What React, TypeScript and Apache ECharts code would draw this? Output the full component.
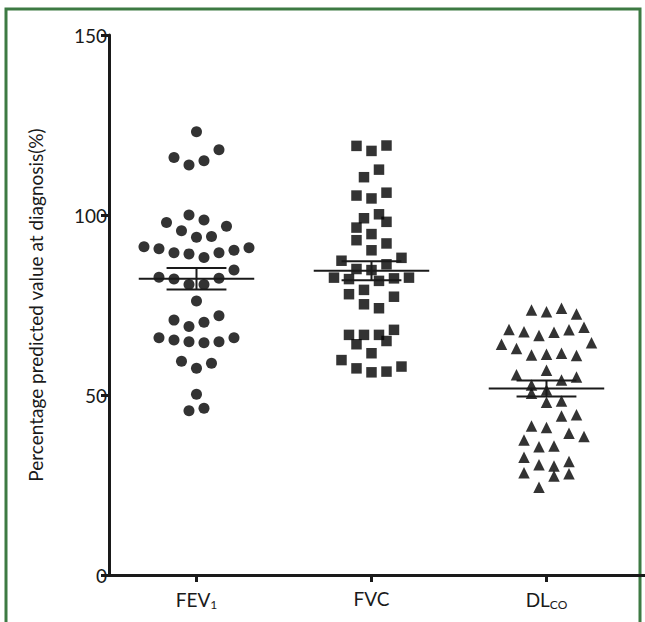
import React, { useEffect, useRef } from "react";
import * as echarts from "echarts";

// ---- data ----
const categories = ["FEV1", "FVC", "DLCO"];
const yTicks = [0, 50, 100, 150];

// horizontal jitter slots (half-steps of the beeswarm) and values, % predicted
const fev1Slots = [0, -3, -1, 1, 3, -1, -4, 1, 4, -2, 0, 2, -7, -5, -3, -1, 1, 3, 5, 7, 5, -5, -3, 3, -1, 1, 0, -3, -1, 1, 3, -5, -3, -1, 1, 3, 5, -2, 0, 2, 0, -1, 1];
const fev1Values = [123.1, 116.0, 113.9, 115.1, 118.1, 100.0, 97.9, 98.6, 96.9, 95.6, 93.8, 94.0, 91.2, 90.6, 89.5, 89.2, 88.2, 89.5, 90.2, 90.9, 84.7, 82.7, 82.2, 82.4, 80.7, 80.7, 76.1, 70.8, 69.0, 70.2, 72.0, 65.9, 65.3, 64.8, 64.5, 64.8, 65.9, 59.4, 57.4, 58.8, 50.2, 45.6, 46.3];

const fvcSlots = [-2, 0, 2, -1, 1, -2, 0, 2, -1, 1, 2, -2, 0, -2, 2, 0, 4, -4, 2, -2, 0, -5, -3, 1, 3, 5, -1, -3, 3, -1, 1, -3, -1, 1, 3, -2, 2, 0, -4, -2, 0, 2, 4];
const fvcValues = [119.2, 117.8, 119.3, 110.5, 112.6, 105.4, 104.6, 106.2, 99.1, 100.2, 98.1, 96.5, 94.7, 93.0, 92.1, 90.2, 88.1, 87.3, 86.3, 85.0, 84.7, 82.6, 82.2, 81.7, 82.4, 82.6, 79.2, 78.0, 77.3, 75.2, 74.1, 66.7, 66.7, 66.7, 68.1, 64.1, 65.0, 61.6, 59.7, 57.4, 56.3, 56.5, 57.9];

const dlcoSlots = [-2, 0, 2, 4, -5, -3, -1, 1, 3, 5, -6, -4, -2, 0, 2, 4, 6, -4, 0, 2, 4, -2, 0, -2, 0, 2, 2, 4, -2, 0, 3, 5, -3, -1, 1, -3, 3, -1, 1, 1, 3, -3, -1];
const dlcoValues = [73.6, 73.1, 74.1, 72.5, 68.2, 67.6, 66.5, 67.4, 68.1, 68.8, 64.1, 62.9, 61.1, 61.3, 61.6, 61.0, 64.5, 55.6, 56.9, 54.2, 55.0, 52.8, 51.4, 50.5, 48.0, 48.3, 44.2, 44.5, 41.4, 41.0, 39.4, 38.5, 37.5, 35.6, 35.8, 32.7, 31.5, 30.6, 30.3, 27.5, 28.1, 28.4, 24.4];

const means = [82.3, 84.5, 51.8];
const sems = [3.0, 2.65, 2.2];

// ---- layout constants ----
const JITTER_STEP = 7.5 / 175;
const FONT = "Lato, 'Open Sans', sans-serif";

function toPoints(col: number, slots: number[], values: number[]) {
  return values.map((v, i) => [col + slots[i] * JITTER_STEP, v]);
}

export default function App() {
  const ref = useRef<HTMLDivElement>(null);

  useEffect(() => {
    if (!ref.current) return;
    const chart = echarts.init(ref.current, null, { renderer: "svg" });

    const labelFmt = (val: number) => {
      const i = Math.round(val);
      if (i === 0) return "{b|FEV}{s|1}";
      if (i === 1) return "{b|FVC}";
      if (i === 2) return "{b|DL}{s|CO}";
      return "";
    };

    const scatterBase = {
      type: "scatter" as const,
      itemStyle: { color: "#000" },
      silent: true,
    };

    chart.setOption({
      animation: false,
      textStyle: { fontFamily: FONT },
      grid: { left: 109, right: 0, top: 35, bottom: 47, containLabel: false },
      xAxis: {
        type: "value",
        min: -0.5,
        max: 2.563,
        splitLine: { show: false },
        axisLine: { show: true, onZero: false, lineStyle: { color: "#1a1a1a", width: 3 } },
        axisTick: {
          show: true,
          customValues: [0, 1, 2],
          length: 7,
          lineStyle: { color: "#1a1a1a", width: 3 },
        },
        axisLabel: {
          customValues: [0, 1, 2],
          formatter: labelFmt,
          margin: 14,
          rich: {
            b: { fontSize: 19, fontFamily: FONT, color: "#1a1a1a" },
            s: { fontSize: 12, fontFamily: FONT, color: "#1a1a1a", padding: [9, 0, 0, 0] },
          },
        },
      },
      yAxis: {
        type: "value",
        min: 0,
        max: 150,
        interval: 50,
        splitLine: { show: false },
        axisLine: { show: true, onZero: false, lineStyle: { color: "#1a1a1a", width: 3 } },
        axisTick: { show: true, length: 8, lineStyle: { color: "#1a1a1a", width: 3 } },
        axisLabel: {
          fontSize: 19,
          fontFamily: FONT,
          color: "#1a1a1a",
          margin: 2,
          formatter: (v: number) => (yTicks.includes(v) ? String(v) : ""),
        },
        name: "Percentage predicted value at diagnosis(%)",
        nameLocation: "middle",
        nameGap: 64,
        nameTextStyle: { fontSize: 19, fontFamily: FONT, color: "#1a1a1a" },
      },
      series: [
        { ...scatterBase, symbol: "circle", symbolSize: 11, data: toPoints(0, fev1Slots, fev1Values) },
        { ...scatterBase, symbol: "rect", symbolSize: 10.5, data: toPoints(1, fvcSlots, fvcValues) },
        { ...scatterBase, symbol: "triangle", symbolSize: 11.5, data: toPoints(2, dlcoSlots, dlcoValues) },
        {
          type: "custom",
          silent: true,
          data: means.map((m, i) => [i, m, sems[i]]),
          renderItem: (_params: any, api: any) => {
            const x = api.value(0);
            const m = api.value(1);
            const s = api.value(2);
            const ml = api.coord([x - 0.33, m]);
            const mr = api.coord([x + 0.33, m]);
            const hl = api.coord([x - 0.171, m + s]);
            const hr = api.coord([x + 0.171, m + s]);
            const ll = api.coord([x - 0.171, m - s]);
            const lr = api.coord([x + 0.171, m - s]);
            const ct = api.coord([x, m + s]);
            const cb = api.coord([x, m - s]);
            const st = { stroke: "#1a1a1a", lineWidth: 2 };
            return {
              type: "group",
              children: [
                { type: "line", shape: { x1: ml[0], y1: ml[1], x2: mr[0], y2: mr[1] }, style: st },
                { type: "line", shape: { x1: hl[0], y1: hl[1], x2: hr[0], y2: hr[1] }, style: st },
                { type: "line", shape: { x1: ll[0], y1: ll[1], x2: lr[0], y2: lr[1] }, style: st },
                { type: "line", shape: { x1: ct[0], y1: ct[1], x2: cb[0], y2: cb[1] }, style: st },
              ],
            };
          },
          z: 5,
        },
      ],
      graphic: [
        {
          type: "polyline",
          shape: { points: [[6, 622], [6, 9], [640, 9], [640, 622]] },
          style: { stroke: "#3d7a43", lineWidth: 3, fill: "none" },
          silent: true,
        },
      ],
    });

    return () => chart.dispose();
  }, []);

  return (
    <div
      ref={ref}
      style={{ position: "absolute", left: 0, top: 0, width: 645, height: 622, background: "#fff" }}
    />
  );
}
